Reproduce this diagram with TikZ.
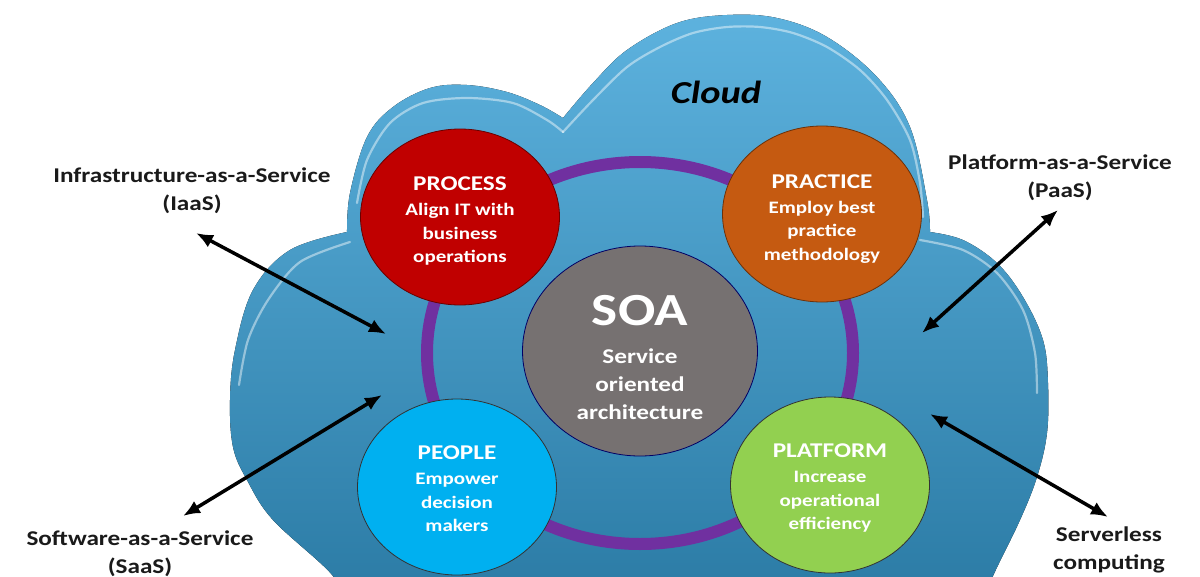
\documentclass[tikz,border=0pt]{standalone}
\usepackage{fontspec}
\setmainfont{Carlito}[FakeStretch=1.2]
\usetikzlibrary{shapes.geometric,arrows.meta}
\definecolor{cloudtop}{HTML}{5DB2DE}
\definecolor{cloudbot}{HTML}{2B7BA5}
\definecolor{ringpurple}{HTML}{7030A0}
\definecolor{procred}{HTML}{C00000}
\definecolor{pracorange}{HTML}{C55A11}
\definecolor{soagrey}{HTML}{767171}
\definecolor{peopleblue}{HTML}{00B0F0}
\definecolor{platgreen}{HTML}{92D050}
\definecolor{labeltext}{HTML}{1A1A1A}
\begin{document}
\begin{tikzpicture}[x=1pt,y=-1pt,
  blob/.style={ellipse, fill=#1, draw=#1!55!black, line width=0.8pt,
    minimum width=199pt, minimum height=176pt, inner sep=0pt},
  blobtext/.style={align=center, text=white, inner sep=0pt,
    font=\bfseries\fontsize{17.5}{23.5}\selectfont},
  ttl/.style={},
  lbl/.style={align=center, text=labeltext, font=\bfseries\fontsize{21}{28}\selectfont},
  biarrow/.style={{Latex[length=17pt,width=14pt]}-{Latex[length=17pt,width=14pt]}, line width=3.5pt, black},
  hilite/.style={white, opacity=0.45, line width=2.2pt, line cap=round}]
\useasboundingbox (0,0) rectangle (1200,576);
\clip (0,0) rectangle (1200,576);
\fill[white] (0,0) rectangle (1200,576);
% cloud
\fill[top color=cloudtop, bottom color=cloudbot]
  plot[smooth, tension=0.6] coordinates {(335,600) (333,576) (273,520) (247,480) (233,447) (230,400) (235,350) (253,290) (290,250) (347,232)}
  -- plot[smooth, tension=0.6] coordinates {(347,232) (350,193) (367,137) (393,107) (430,88) (467,85) (507,92) (540,105) (563,118)}
  -- plot[smooth, tension=0.6] coordinates {(563,118) (593,83) (627,50) (677,23) (727,15) (777,18) (827,37) (877,77) (910,127) (927,200) (930,232)}
  -- plot[smooth, tension=0.6] coordinates {(930,232) (963,240) (997,263) (1023,297) (1043,340) (1048,383) (1047,433) (1037,477) (1020,520) (993,576) (985,600)}
  -- cycle;
\draw[hilite] plot[smooth] coordinates {(350,242) (300,262) (268,300) (248,340) (239,385)};
\draw[hilite] plot[smooth] coordinates {(357,203) (367,160) (390,123) (423,103) (467,98) (513,103) (547,120) (563,132)};
\draw[hilite] plot[smooth] coordinates {(563,132) (593,100) (627,67) (660,47) (693,33) (727,27) (760,27) (793,33) (827,47) (860,70) (887,100) (910,140) (920,183) (923,217)};
\draw[hilite] plot[smooth] coordinates {(920,240) (963,250) (997,273) (1023,310) (1035,353) (1037,393)};
% ring
\node[ellipse, draw=ringpurple, line width=12pt, minimum width=426pt, minimum height=382pt] (ring) at (640,353) {};
% circles
\node[blob=procred] (process) at (460,217) {};
\node[blobtext] (processtext) at ([yshift=-4pt]process.center) {{\fontsize{21}{23.5}\selectfont PROCESS}\\[1.5pt]Align IT with\\business\\operations};
\node[blob=pracorange] (practice) at (822,214) {};
\node[blobtext] (practicetext) at ([yshift=-5pt]practice.center) {{\fontsize{21}{23.5}\selectfont PRACTICE}\\[1.5pt]Employ best\\practice\\methodology};
\node[blob=soagrey, draw=blue!40!black, minimum width=235pt, minimum height=210pt] (soa) at (640,351) {};
\node[blobtext, font=\bfseries\fontsize{21}{28}\selectfont] (soatext) at ([yshift=-6pt]soa.center) {{\fontsize{46}{48}\selectfont SOA}\\[10pt]Service\\oriented\\architecture};
\node[blob=peopleblue, draw=black!80] (people) at (457,487) {};
\node[blobtext] (peopletext) at ([yshift=-2pt]people.center) {{\fontsize{21}{23.5}\selectfont PEOPLE}\\[1.5pt]Empower\\decision\\makers};
\node[blob=platgreen, draw=black!80] (platform) at (830,485) {};
\node[blobtext] (platformtext) at ([yshift=-3pt]platform.center) {{\fontsize{21}{23.5}\selectfont PLATFORM}\\[1.5pt]Increase\\operational\\efficiency};
% labels
\node[font=\bfseries\itshape\fontsize{32}{36}\selectfont, text=black] (cloudlbl) at (716,92) {Cloud};
\node[lbl] (iaas) at (192,191) {Infrastructure-as-a-Service\\(IaaS)};
\node[lbl] (paas) at (1060,178) {Platform-as-a-Service\\(PaaS)};
\node[lbl] (saas) at (140,554) {Software-as-a-Service\\(SaaS)};
\node[lbl] (serverless) at (1109,550) {Serverless\\computing};
% arrows
\coordinate (iaasA) at (196,233); \coordinate (iaasB) at (386,334);
\coordinate (saasA) at (382,395); \coordinate (saasB) at (183,516);
\coordinate (paasA) at (1058,210); \coordinate (paasB) at (922,333);
\coordinate (servA) at (930,414); \coordinate (servB) at (1108,517);
\draw[biarrow] (iaasA) -- (iaasB);
\draw[biarrow] (saasA) -- (saasB);
\draw[biarrow] (paasA) -- (paasB);
\draw[biarrow] (servA) -- (servB);
\end{tikzpicture}
\end{document}
